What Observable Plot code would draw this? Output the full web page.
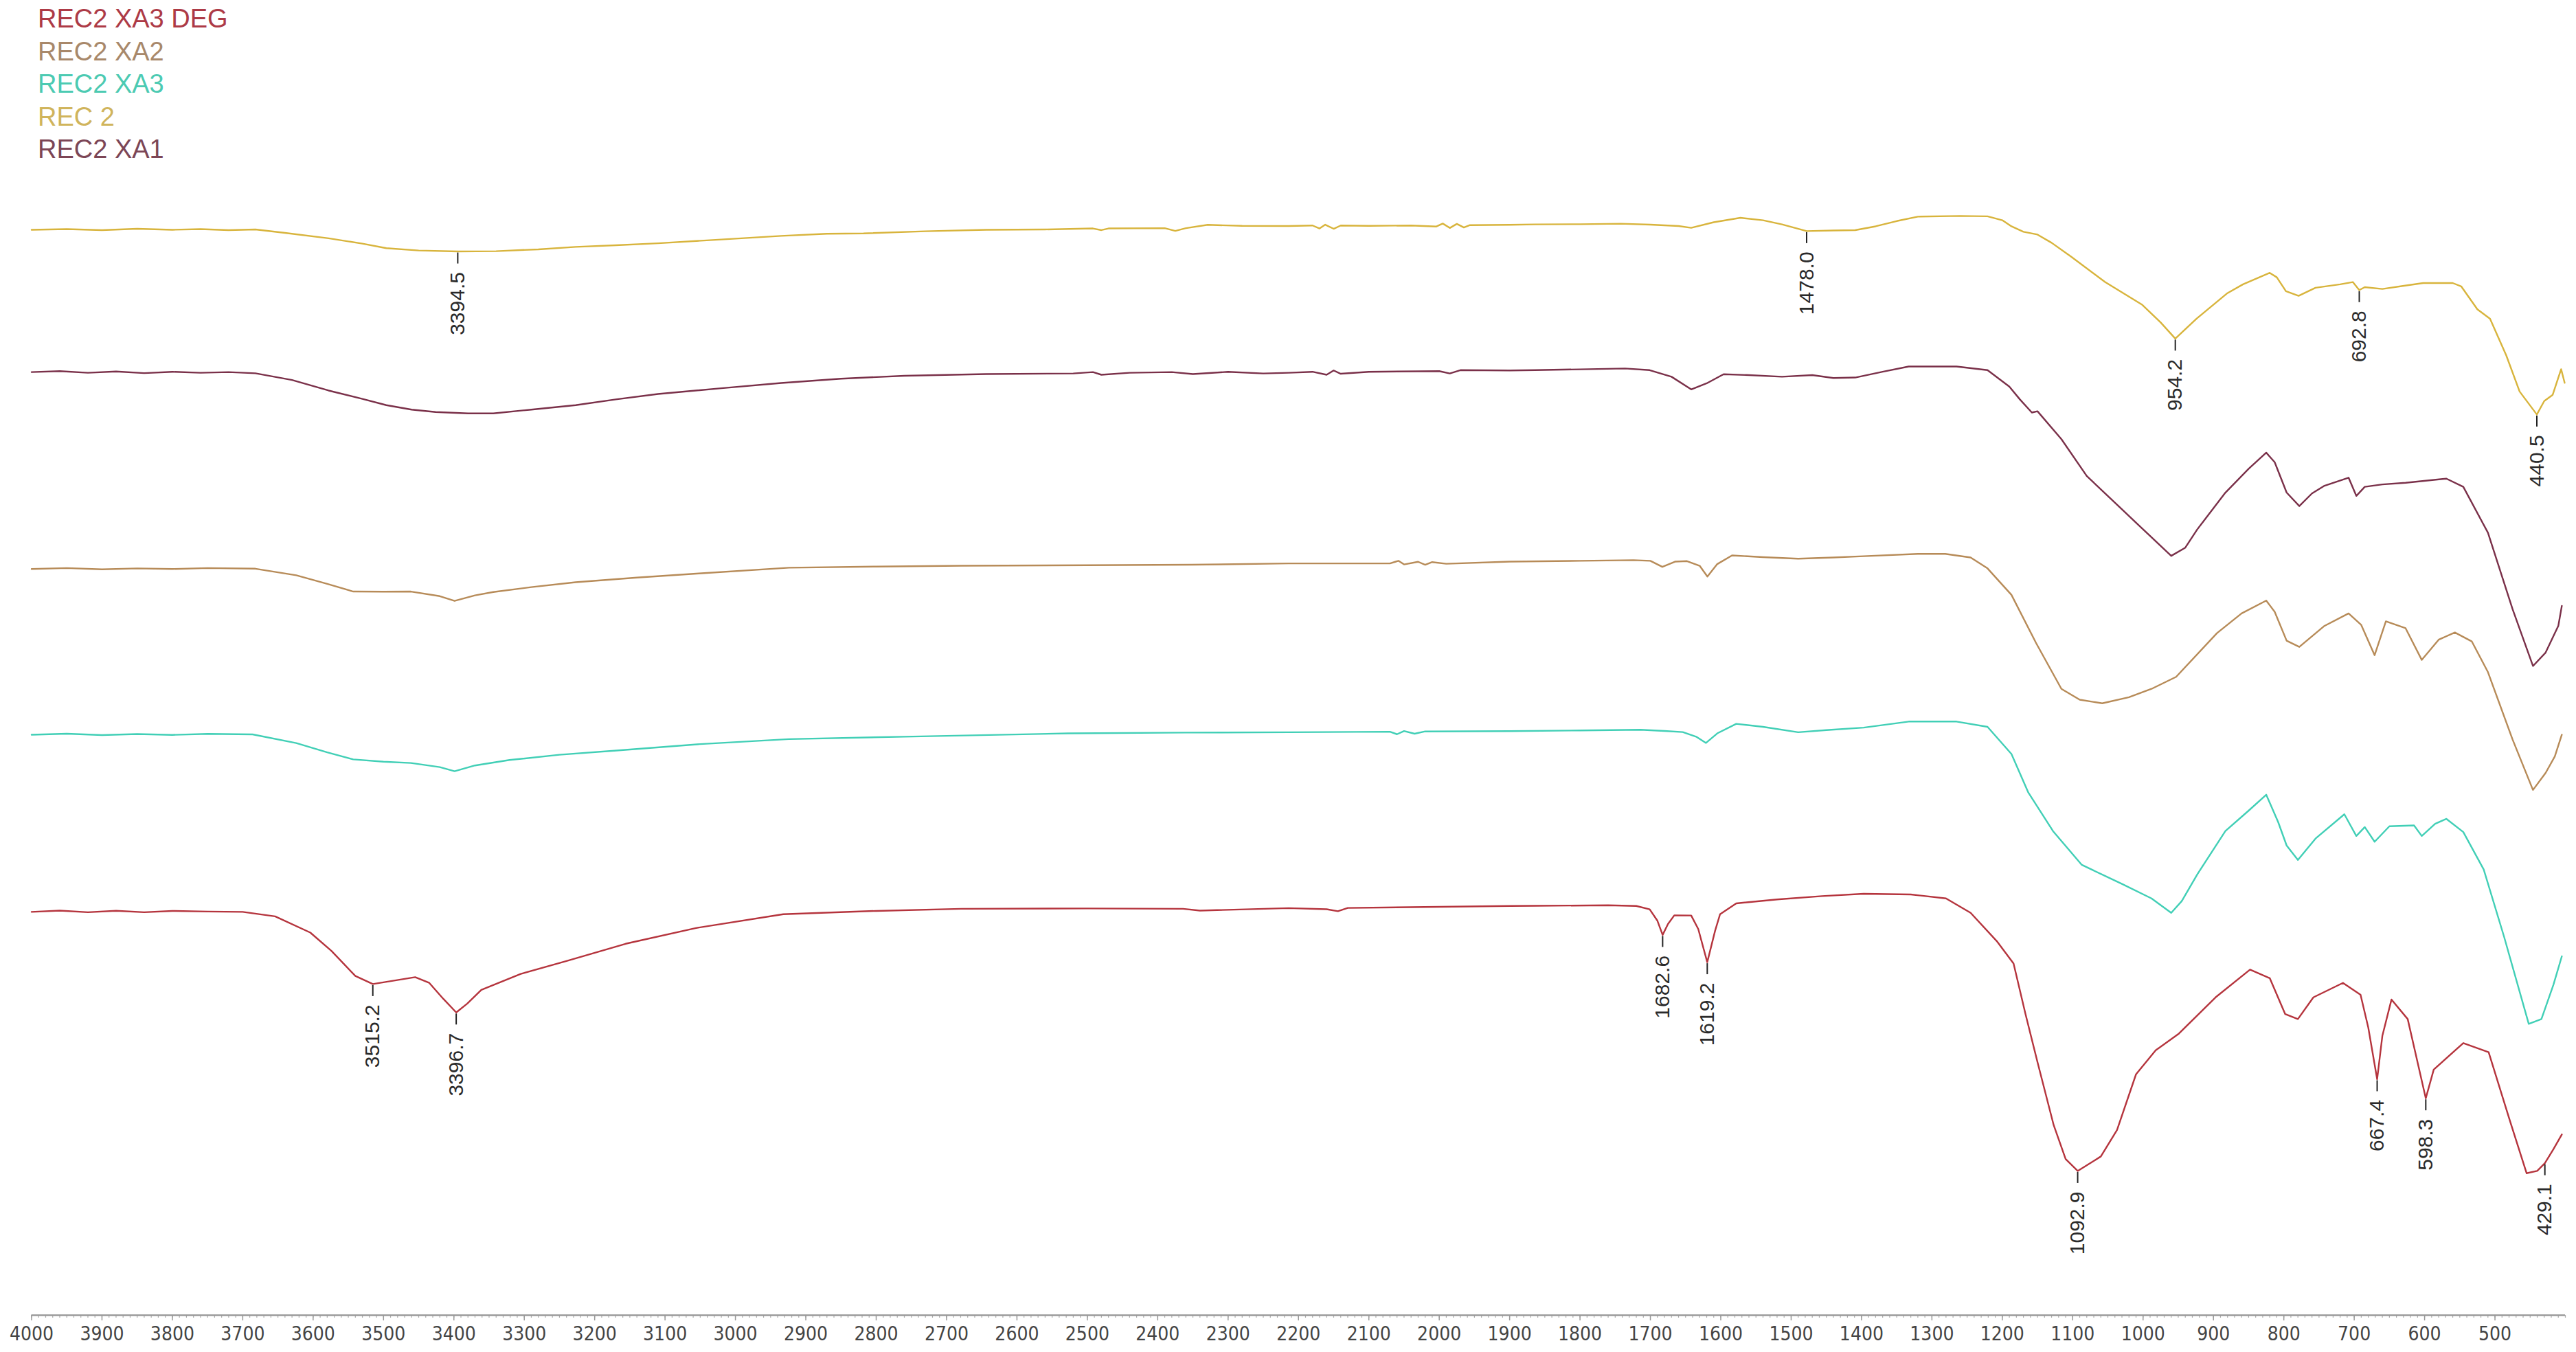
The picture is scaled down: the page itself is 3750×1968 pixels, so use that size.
<!DOCTYPE html>
<html>
<head>
<meta charset="utf-8">
<script src="https://cdn.jsdelivr.net/npm/d3@7"></script>
<script src="https://cdn.jsdelivr.net/npm/@observablehq/plot@0.6"></script>
<style>
  body { margin: 0; background: #fff; }
  #legend { height: 250px; box-sizing: border-box; padding: 4px 0 0 55px;
            font-family: "Liberation Sans", Arial, sans-serif; font-size: 38px; line-height: 47.5px; }
  #legend div { white-space: nowrap; }
</style>
</head>
<body>
<div id="legend"></div>
<div id="chart"></div>
<script>
// ---- series (wavenumber cm-1, transmittance a.u. incl. stacking offset) ----
const seriesNames = ["REC 2", "REC2 XA1", "REC2 XA2", "REC2 XA3", "REC2 XA3 DEG"];
const lineColors  = ["#d8b43c", "#7a3049", "#b78b58", "#41cfb6", "#b5343d"];

const legendNames  = ["REC2 XA3 DEG", "REC2 XA2", "REC2 XA3", "REC 2", "REC2 XA1"];
const legendColors = ["#ad3a46", "#a8886a", "#4ccab2", "#d0b45c", "#7c4656"];

const rec2 = [[4000,660.4],[3950,660.8],[3900,660.2],[3850,661.0],[3800,660.4],[3760,660.8],[3720,660.2],[3682,660.6],[3640,658.5],[3578,655.2],[3530,652.0],[3496,649.2],[3450,647.8],[3394.5,647.2],[3340,647.4],[3280,648.5],[3227,650.0],[3170,651.0],[3110,652.2],[3020,654.5],[2935,656.7],[2870,658.0],[2818,658.2],[2730,659.5],[2644,660.4],[2560,660.6],[2492,661.2],[2480,660.2],[2470,661.2],[2390,661.4],[2375,659.7],[2360,661.4],[2329,663.4],[2280,662.8],[2214,662.7],[2180,663.0],[2170,661.2],[2162,663.5],[2150,661.0],[2140,663.0],[2100,662.8],[2040,663.0],[2004,662.4],[1995,664.2],[1985,661.5],[1975,664.0],[1965,661.8],[1957,663.2],[1900,663.4],[1864,663.7],[1800,663.8],[1742,664.1],[1700,663.5],[1660,662.7],[1642,661.6],[1610,665.0],[1572,667.7],[1540,666.2],[1513,663.7],[1478,659.6],[1440,660.0],[1409,660.2],[1380,662.5],[1350,665.7],[1320,668.4],[1260,668.8],[1221,668.6],[1200,666.2],[1187,662.5],[1170,659.2],[1150,657.5],[1130,652.5],[1102,644.0],[1054,628.6],[1001,614.7],[975,604.0],[954.2,594.2],[924,606.3],[881,621.6],[858,627.2],[820,634.2],[810,631.5],[797,623.0],[779,620.2],[755,625.1],[720,627.2],[702,628.6],[692.8,623.7],[685,625.5],[660,624.4],[631,626.2],[602,628.0],[560,628.0],[548,626.0],[525,612.0],[507,606.3],[484,584.0],[465,562.0],[440.5,548.0],[430,556.2],[418,560.0],[406,575.6],[401,567.3]];

const rec2xa1 = [[4000,573.8],[3960,574.4],[3920,573.4],[3880,574.2],[3840,573.2],[3800,574.0],[3760,573.4],[3720,573.8],[3682,573.1],[3630,569.0],[3578,562.6],[3530,557.5],[3496,553.7],[3460,551.0],[3426,549.5],[3380,548.7],[3344,548.7],[3290,551.0],[3227,553.7],[3170,557.2],[3110,560.5],[3020,564.0],[2935,567.2],[2850,569.8],[2760,571.6],[2644,572.6],[2520,573.0],[2492,573.8],[2480,572.2],[2440,573.4],[2380,573.8],[2350,572.6],[2300,574.0],[2250,573.0],[2214,573.4],[2180,574.0],[2160,572.2],[2150,574.8],[2140,572.8],[2100,574.0],[2000,574.4],[1985,573.0],[1970,575.0],[1900,574.8],[1864,575.0],[1800,575.5],[1736,576.0],[1701,575.0],[1670,571.0],[1642,563.3],[1620,567.0],[1596,572.5],[1560,572.0],[1513,571.0],[1470,572.0],[1440,570.2],[1409,570.5],[1370,574.0],[1333,577.2],[1265,577.2],[1221,575.0],[1190,565.0],[1175,557.2],[1158,549.2],[1150,550.0],[1116,533.0],[1080,510.6],[1030,490.3],[990,474.1],[960,462.0],[940,467.0],[923,478.1],[883,500.5],[850,515.0],[825,524.8],[813,519.0],[796,500.5],[778,492.3],[760,500.0],[743,504.5],[708,509.6],[697,498.5],[685,504.0],[660,505.5],[627,506.5],[569,509.0],[545,504.0],[510,476.1],[475,429.6],[446,395.0],[428,403.2],[410,419.4],[405,431.6]];

const rec2xa2 = [[4000,454.0],[3950,454.6],[3900,453.8],[3850,454.4],[3800,454.0],[3750,454.6],[3682,454.2],[3624,450.2],[3580,445.0],[3543,440.3],[3500,440.2],[3461,440.3],[3420,437.5],[3399,434.6],[3370,438.0],[3344,440.0],[3290,443.0],[3227,446.0],[3140,448.8],[3052,451.3],[2924,454.8],[2800,455.5],[2679,456.0],[2500,456.3],[2352,456.6],[2214,457.4],[2070,457.4],[2058,459.0],[2050,456.8],[2030,458.4],[2020,456.6],[2010,458.2],[1990,457.2],[1900,458.5],[1800,459.0],[1724,459.4],[1700,459.0],[1683,455.3],[1665,458.5],[1648,458.8],[1630,456.0],[1619,449.4],[1605,457.0],[1584,462.3],[1540,461.2],[1490,460.3],[1440,461.0],[1397,461.8],[1320,463.2],[1281,463.2],[1245,461.0],[1221,454.4],[1187,438.3],[1152,409.0],[1116,381.1],[1090,374.5],[1058,372.3],[1020,376.0],[988,381.1],[953,388.4],[895,415.0],[860,427.0],[825,434.8],[813,428.0],[796,410.4],[778,406.6],[743,419.2],[708,427.0],[690,420.0],[671,401.6],[655,422.2],[627,418.0],[604,398.7],[580,411.0],[557,415.4],[533,410.0],[510,391.3],[475,350.3],[446,319.6],[428,330.0],[415,340.0],[405,353.2]];

const rec2xa3 = [[4000,353.2],[3950,353.8],[3900,353.0],[3850,353.6],[3800,353.1],[3750,353.7],[3686,353.4],[3624,348.1],[3580,342.5],[3543,338.2],[3500,336.8],[3461,336.0],[3420,333.5],[3399,331.0],[3370,334.5],[3321,337.8],[3250,341.0],[3169,343.6],[3050,347.5],[2924,350.5],[2760,352.0],[2527,354.0],[2360,354.5],[2214,354.7],[2070,355.0],[2060,353.5],[2050,355.4],[2035,353.8],[2020,355.2],[1900,355.4],[1800,355.8],[1714,356.2],[1680,355.5],[1654,354.8],[1635,352.0],[1621,348.2],[1605,354.0],[1578,359.8],[1540,358.0],[1490,354.7],[1450,356.0],[1397,357.5],[1333,361.2],[1265,361.2],[1221,358.0],[1187,341.5],[1163,318.0],[1128,294.6],[1087,274.0],[1030,262.4],[988,253.6],[960,244.8],[945,252.0],[923,268.2],[883,294.6],[850,307.0],[825,316.7],[808,300.0],[796,285.8],[780,277.0],[755,290.0],[714,304.8],[697,291.6],[685,297.0],[671,288.1],[650,297.5],[615,298.0],[604,291.6],[585,299.0],[569,302.0],[545,294.0],[516,271.2],[487,230.2],[452,177.3],[434,180.2],[417,201.0],[405,218.4]];

const rec2xa3deg = [[4000,245.4],[3960,246.2],[3920,245.2],[3880,246.1],[3840,245.2],[3800,246.0],[3750,245.6],[3700,245.4],[3654,242.7],[3604,232.8],[3574,221.7],[3540,206.4],[3515.2,201.5],[3485,203.6],[3455,205.7],[3435,202.2],[3415,192.5],[3396.7,184.2],[3381,189.6],[3361,198.0],[3305,207.7],[3240,215.5],[3156,226.0],[3056,235.6],[2932,244.0],[2800,246.0],[2679,247.3],[2500,247.5],[2364,247.3],[2340,246.2],[2214,247.7],[2160,247.0],[2144,245.8],[2130,247.8],[2000,248.5],[1900,249.0],[1864,249.1],[1760,249.4],[1720,249.0],[1701,247.0],[1690,240.0],[1682.6,231.4],[1675,238.0],[1666,243.3],[1642,243.2],[1632,235.0],[1619.2,214.8],[1608,234.0],[1601,244.0],[1578,250.6],[1520,253.0],[1456,255.0],[1397,256.4],[1330,256.0],[1280,253.6],[1245,244.8],[1207,227.2],[1184,214.0],[1167,183.2],[1150,154.0],[1127,115.7],[1110,95.0],[1092.9,87.8],[1060,96.6],[1037,112.7],[1010,146.6],[982,161.2],[949,171.4],[897,193.4],[848,210.3],[820,205.1],[798,183.2],[780,180.2],[758,193.4],[716,202.2],[691,195.0],[680,175.0],[667.4,143.6],[660,170.0],[647,192.1],[624,180.2],[598.3,132.0],[587,149.5],[545,165.6],[509,160.0],[478,117.3],[455,86.4],[440,87.8],[429.1,92.5],[417,101.0],[405,110.0]];

const seriesData = [rec2, rec2xa1, rec2xa2, rec2xa3, rec2xa3deg];

// labelled peaks: [series, wavenumber]
const peakList = [
  ["REC 2", 3394.5], ["REC 2", 1478.0], ["REC 2", 954.2], ["REC 2", 692.8], ["REC 2", 440.5],
  ["REC2 XA3 DEG", 3515.2], ["REC2 XA3 DEG", 3396.7], ["REC2 XA3 DEG", 1682.6], ["REC2 XA3 DEG", 1619.2],
  ["REC2 XA3 DEG", 1092.9], ["REC2 XA3 DEG", 667.4], ["REC2 XA3 DEG", 598.3], ["REC2 XA3 DEG", 429.1]
];

const majorTicks = d3.range(500, 4001, 100);
const minorTicks = d3.range(400, 4001, 10);

// ---- build tables ----
const rows = seriesNames.flatMap((name, i) => seriesData[i].map(([wn, t]) => ({series: name, wn, t})));
const peaks = peakList.map(([series, wn]) => {
  const arr = seriesData[seriesNames.indexOf(series)];
  const p = arr.find(d => d[0] === wn);
  return {series, wn, t: p[1]};
});

// ---- legend ----
const legend = document.getElementById("legend");
legendNames.forEach((n, i) => {
  const d = document.createElement("div");
  d.textContent = n;
  d.style.color = legendColors[i];
  legend.appendChild(d);
});

// ---- chart ----
const W = 3750, H = 1718, MB = 54, MT = 0;
const yDomain = [0, 695.5];
const pxPerUnit = (H - MB - MT) / (yDomain[1] - yDomain[0]);

const chart = Plot.plot({
  width: W,
  height: H,
  marginLeft: 45.5,
  marginRight: 16,
  marginTop: MT,
  marginBottom: MB,
  x: {domain: [4000, 400], axis: null},
  y: {domain: yDomain, axis: null},
  color: {domain: seriesNames, range: lineColors},
  style: {background: "#fff"},
  marks: [
    Plot.axisX(minorTicks, {tickSize: 4, tickFormat: () => "", stroke: "#aaa", strokeWidth: 1.2, label: null}),
    Plot.axisX(majorTicks, {tickSize: 8, tickPadding: 9, tickFormat: d => String(d), fontSize: 28,
      fontFamily: "'Liberation Sans Narrow', 'DejaVu Sans Condensed', 'Liberation Sans', sans-serif",
      stroke: "#999", strokeWidth: 1.5, fill: "#444", label: null}),
    Plot.ruleY([0], {stroke: "#9a9a9a", strokeWidth: 2.5}),
    Plot.line(rows, {x: "wn", y: "t", z: "series", stroke: "series", strokeWidth: 2.4, curve: "linear"}),
    Plot.ruleX(peaks, {x: "wn", y1: d => d.t - 2 / pxPerUnit, y2: d => d.t - 18 / pxPerUnit, stroke: "#222", strokeWidth: 2}),
    Plot.text(peaks, {x: "wn", y: "t", text: d => d.wn.toFixed(1), rotate: -90, textAnchor: "end",
      dy: 30, fontSize: 30, fill: "#2a2a2a", fontFamily: "'Liberation Sans', Arial, sans-serif"})
  ]
});
document.getElementById("chart").appendChild(chart);
</script>
</body>
</html>
